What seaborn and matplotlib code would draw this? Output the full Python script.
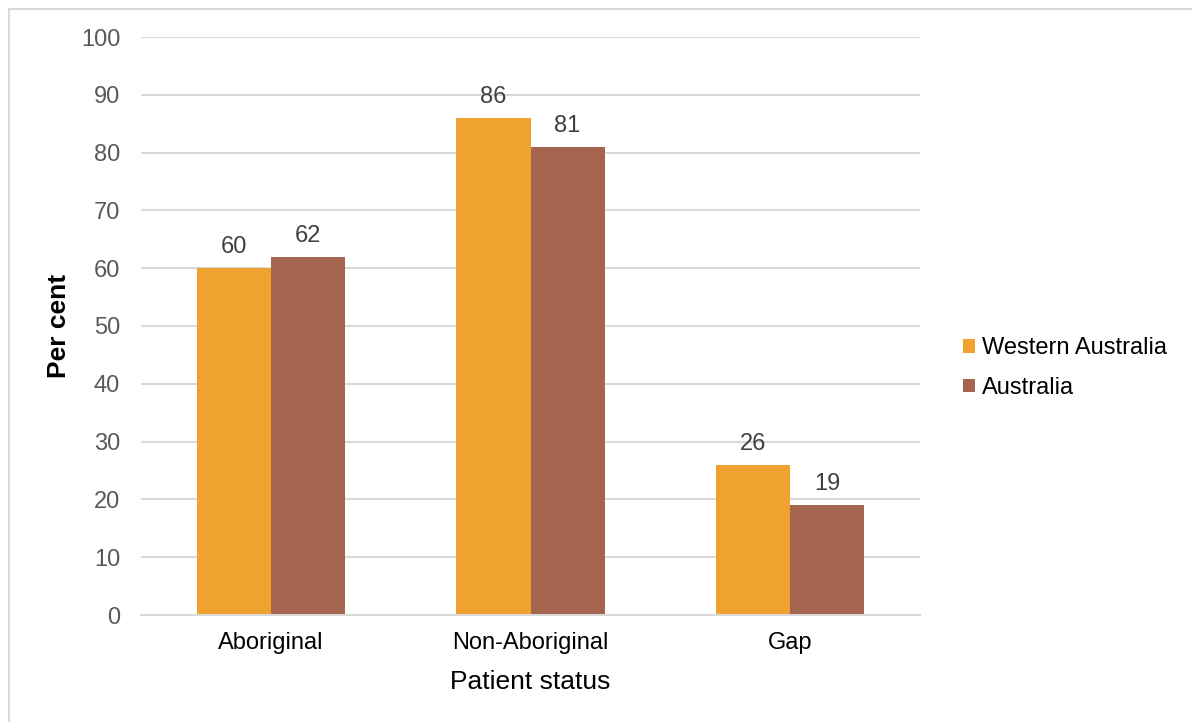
import matplotlib
matplotlib.use("Agg")
import matplotlib.pyplot as plt
import seaborn as sns
import pandas as pd
from matplotlib.lines import Line2D
from matplotlib.patches import Patch

categories = ["Aboriginal", "Non-Aboriginal", "Gap"]
western_australia = [60, 86, 26]
australia = [62, 81, 19]
series_names = ["Western Australia", "Australia"]
y_ticks = [0, 10, 20, 30, 40, 50, 60, 70, 80, 90, 100]

colors = ["#EFA22F", "#A5644E"]

df = pd.DataFrame({
    "Patient status": categories * 2,
    "Per cent": western_australia + australia,
    "Region": [series_names[0]] * 3 + [series_names[1]] * 3,
})

sns.set_theme(style="white")
plt.rcParams["font.family"] = ["Liberation Sans", "DejaVu Sans"]

W, H = 1192, 722
fig = plt.figure(figsize=(W / 100, H / 100), dpi=100)
ax = fig.add_axes([141 / W, 1 - 615 / H, (920 - 141) / W, (615 - 37) / H])

sns.barplot(data=df, x="Patient status", y="Per cent", hue="Region",
            palette=colors, width=0.57, saturation=1, linewidth=0,
            ax=ax, legend=False)

for container in ax.containers:
    ax.bar_label(container, fmt="%d", padding=7, fontsize=17, color="#404040")

ax.set_ylim(0, 100)
ax.set_xlim(-0.5, 2.5)
ax.set_yticks(y_ticks)
ax.yaxis.grid(True, color="#D9D9D9", linewidth=1.5)
ax.set_axisbelow(True)
for side in ["top", "right", "left"]:
    ax.spines[side].set_visible(False)
ax.spines["bottom"].set_color("#D9D9D9")
ax.spines["bottom"].set_linewidth(1.5)
ax.tick_params(axis="y", labelsize=17, colors="#595959", length=0, pad=15)
ax.tick_params(axis="x", labelsize=17, colors="#000000", length=0, pad=12)

ax.set_ylabel("Per cent", fontsize=19, fontweight="bold", color="#000000")
ax.yaxis.set_label_coords(-0.09, 0.5)
ax.set_xlabel("Patient status", fontsize=19, color="#000000", labelpad=12)

handles = [Patch(facecolor=c, edgecolor="none") for c in colors]
fig.legend(handles, series_names, loc="center left", bbox_to_anchor=(0.79, 0.49),
           frameon=False, fontsize=17, handlelength=0.5, handleheight=0.5,
           handletextpad=0.3, labelspacing=0.75, labelcolor="#000000")

# thin frame along the left and top edges of the figure
frame_kw = dict(transform=fig.transFigure, color="#D9D9D9", linewidth=1.5)
fig.add_artist(Line2D([8.5 / W, 8.5 / W], [0, 1 - 8.5 / H], **frame_kw))
fig.add_artist(Line2D([8.5 / W, 1], [1 - 8.5 / H, 1 - 8.5 / H], **frame_kw))

fig.savefig("out.png", dpi=100)
